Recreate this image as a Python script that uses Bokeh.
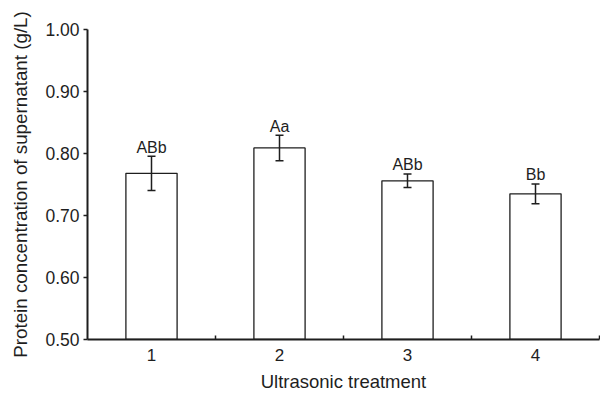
from bokeh.plotting import figure
from bokeh.models import ColumnDataSource, Whisker, TeeHead, FixedTicker, Range1d, NumeralTickFormatter
from bokeh.core.properties import value
from bokeh.embed import file_html
from bokeh.resources import INLINE

# Data
treatments = [1, 2, 3, 4]
means = [0.768, 0.809, 0.756, 0.735]
errors = [0.0275, 0.0205, 0.011, 0.016]
letters = ["ABb", "Aa", "ABb", "Bb"]
y_ticks = [0.5, 0.6, 0.7, 0.8, 0.9, 1.0]

FONT = "Liberation Sans"
INK = "#1e1e1e"

src = ColumnDataSource(dict(
    x=treatments,
    top=means,
    upper=[m + e for m, e in zip(means, errors)],
    lower=[m - e for m, e in zip(means, errors)],
    label=letters,
))

p = figure(width=600, height=394, output_backend="svg", toolbar_location=None,
           x_range=Range1d(0.5, 4.5), y_range=Range1d(0.5, 1.0),
           min_border_left=87, min_border_right=1, min_border_top=29, min_border_bottom=54)
p.outline_line_color = None
p.grid.visible = False
p.background_fill_color = "white"

p.vbar(x="x", top="top", bottom=0.5, width=0.4, source=src,
       fill_color="white", line_color=INK, line_width=1.3)

w = Whisker(base="x", upper="upper", lower="lower", source=src, dimension="height",
            line_color=INK, line_width=1.5, level="overlay",
            upper_head=TeeHead(size=8, line_color=INK, line_width=1.5),
            lower_head=TeeHead(size=8, line_color=INK, line_width=1.5))
p.add_layout(w)

p.text(x="x", y="upper", text="label", source=src, text_align="center",
       text_baseline="alphabetic", y_offset=-9, text_font=value(FONT),
       text_font_size="16px", text_color=INK)

# x axis
xa = p.xaxis[0]
xa.ticker = FixedTicker(ticks=treatments, minor_ticks=[1.5, 2.5, 3.5, 4.5])
xa.major_tick_in = 0
xa.major_tick_out = 0
xa.minor_tick_in = 4
xa.minor_tick_out = 0
xa.minor_tick_line_color = INK
xa.minor_tick_line_width = 1.5
xa.axis_line_color = INK
xa.axis_line_width = 2
xa.major_label_standoff = 9
xa.major_label_text_font = FONT
xa.major_label_text_font_size = "17px"
xa.major_label_text_color = INK
xa.axis_label = "Ultrasonic treatment"
xa.axis_label_text_font = FONT
xa.axis_label_text_font_size = "18.5px"
xa.axis_label_text_font_style = "normal"
xa.axis_label_text_color = INK
xa.axis_label_standoff = 7

# y axis
ya = p.yaxis[0]
ya.ticker = FixedTicker(ticks=y_ticks, minor_ticks=[])
ya.formatter = NumeralTickFormatter(format="0.00")
ya.major_tick_in = 0
ya.major_tick_out = 4
ya.major_tick_line_color = INK
ya.major_tick_line_width = 1.5
ya.axis_line_color = INK
ya.axis_line_width = 2
ya.major_label_standoff = 4
ya.major_label_text_font = FONT
ya.major_label_text_font_size = "17.5px"
ya.major_label_text_color = INK
ya.axis_label = "Protein concentration of supernatant (g/L)"
ya.axis_label_text_font = FONT
ya.axis_label_text_font_size = "18.8px"
ya.axis_label_text_font_style = "normal"
ya.axis_label_text_color = INK
ya.axis_label_standoff = 11

open("out.html", "w").write(file_html(p, INLINE))
